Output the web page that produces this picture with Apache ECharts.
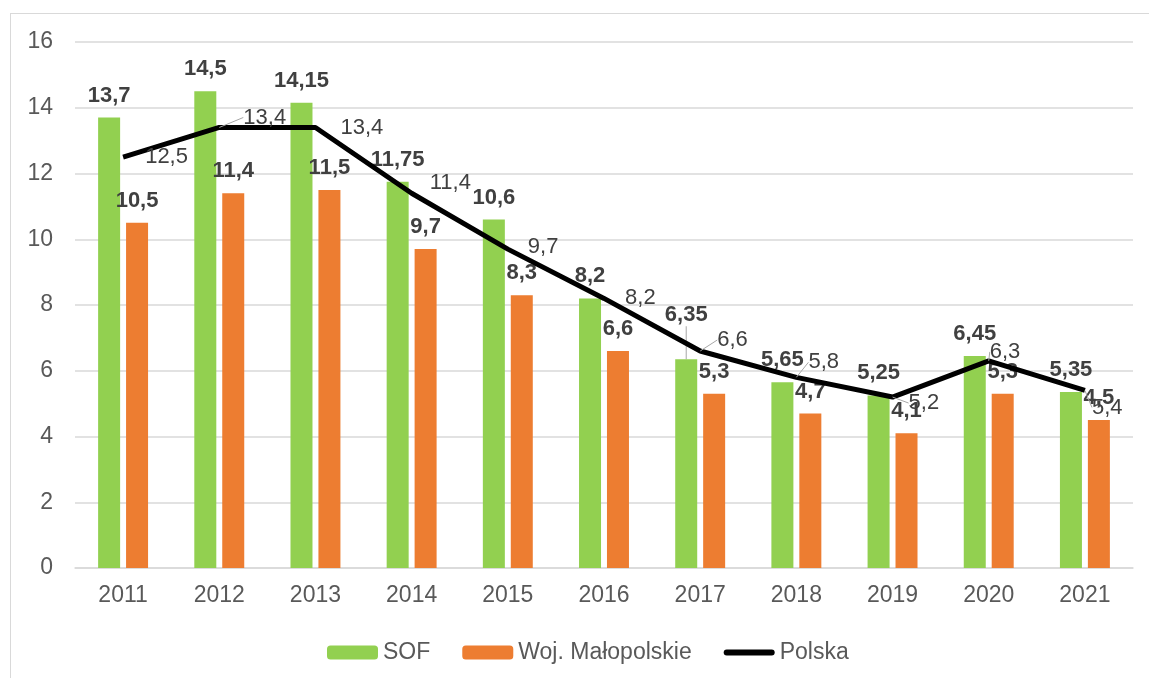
<!DOCTYPE html>
<html>
<head>
<meta charset="utf-8">
<script src="https://cdn.jsdelivr.net/npm/echarts@6/dist/echarts.min.js"></script>
<style>
  html, body { margin: 0; padding: 0; background: #fff; }
  #frame {
    position: absolute; left: 10px; top: 13px; width: 1200px; height: 700px;
    border: 1.5px solid #d9d9d9; box-sizing: border-box;
  }
  #chart { position: absolute; left: 0; top: 0; width: 1149px; height: 678px; }
</style>
</head>
<body>
<div id="frame"></div>
<div id="chart"></div>
<script>
const years = ['2011', '2012', '2013', '2014', '2015', '2016', '2017', '2018', '2019', '2020', '2021']
const sof = [13.7, 14.5, 14.15, 11.75, 10.6, 8.2, 6.35, 5.65, 5.25, 6.45, 5.35]
const malopolskie = [10.5, 11.4, 11.5, 9.7, 8.3, 6.6, 5.3, 4.7, 4.1, 5.3, 4.5]
const polska = [12.5, 13.4, 13.4, 11.4, 9.7, 8.2, 6.6, 5.8, 5.2, 6.3, 5.4]

// where Excel put the Polska labels (relative to the point), and which got a leader line
const polskaLabelShift = [[17, 0], [19, -10], [20, 0], [13, -10], [15, -2], [16, 0], [12, -11], [7, -15], [11, 6], [-4, -9], [2, 17]]
const polskaLeader = [false, true, false, false, false, false, true, true, true, true, true]

const fmt = (v) => String(v).replace('.', ',')
const font = 'Liberation Sans, Arial, sans-serif'
const leaderStyle = { color: '#a6a6a6', width: 1 }

let myChart = echarts.init(document.getElementById('chart'))
let option = {
  animation: false,
  textStyle: { fontFamily: font },
  grid: { left: 75, right: 16, top: 42, bottom: 110 },
  legend: {
    left: 322,
    top: 636,
    itemWidth: 51,
    itemHeight: 14,
    itemGap: 32,
    textStyle: { fontSize: 23, color: '#595959', fontFamily: font },
    data: [
      { name: 'SOF' },
      { name: 'Woj. Małopolskie' },
      { name: 'Polska', icon: 'path://M3,0 H48 A3,3 0 0 1 48,6 H3 A3,3 0 0 1 3,0 Z' },
    ],
  },
  xAxis: {
    type: 'category',
    data: years,
    axisTick: { show: false },
    axisLine: { lineStyle: { color: '#d9d9d9', width: 1.5 } },
    axisLabel: { color: '#595959', fontSize: 23, margin: 16 },
  },
  yAxis: {
    type: 'value',
    min: 0,
    max: 16,
    interval: 2,
    splitLine: { lineStyle: { color: '#d9d9d9', width: 1.5 } },
    axisLine: { show: false },
    axisTick: { show: false },
    axisLabel: { color: '#595959', fontSize: 23, margin: 22 },
  },
  series: [
    {
      name: 'SOF',
      type: 'bar',
      barWidth: 22,
      barGap: '27%',
      data: sof.map((v, i) => i === 6 ? { value: v, labelLine: { show: true } } : v),
      itemStyle: { color: '#92d050' },
      labelLine: { show: false, lineStyle: leaderStyle },
      labelLayout: (p) => (p.dataIndex === 6 ? { dy: -22 } : {}),
      label: {
        show: true,
        position: 'top',
        distance: 11,
        fontSize: 22,
        fontWeight: 'bold',
        color: '#404040',
        formatter: (p) => fmt(p.value),
      },
    },
    {
      name: 'Woj. Małopolskie',
      type: 'bar',
      barWidth: 22,
      data: malopolskie,
      itemStyle: { color: '#ed7d31' },
      label: {
        show: true,
        position: 'top',
        distance: 11,
        fontSize: 22,
        fontWeight: 'bold',
        color: '#404040',
        formatter: (p) => fmt(p.value),
      },
    },
    {
      name: 'Polska',
      type: 'line',
      symbol: 'circle',
      symbolSize: 0.1,
      showAllSymbol: true,
      z: 5,
      data: polska.map((v, i) => ({
        value: v,
        labelLine: { show: polskaLeader[i] },
      })),
      itemStyle: { color: '#000' },
      lineStyle: { color: '#000', width: 5 },
      labelLine: { lineStyle: leaderStyle },
      labelLayout: (p) => ({
        dx: polskaLabelShift[p.dataIndex][0],
        dy: polskaLabelShift[p.dataIndex][1],
        hideOverlap: false,
      }),
      label: {
        show: true,
        position: 'right',
        distance: 5,
        fontSize: 22,
        color: '#404040',
        formatter: (p) => fmt(p.value),
      },
    },
  ],
}
myChart.setOption(option)
</script>
</body>
</html>
